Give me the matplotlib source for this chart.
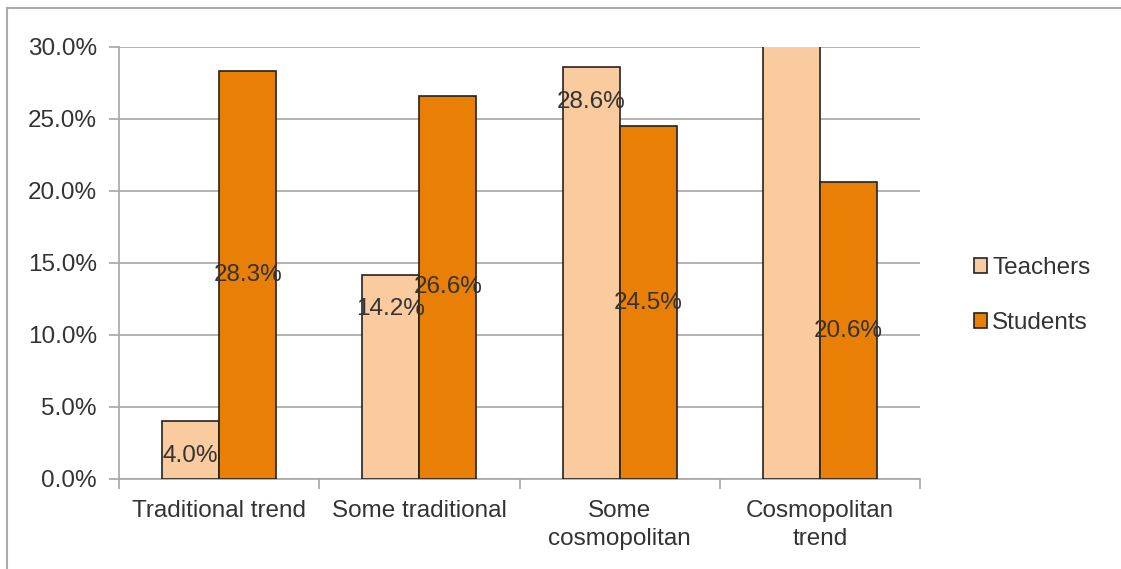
import numpy as np
import matplotlib.pyplot as plt
from matplotlib.lines import Line2D

categories = ['Traditional trend', 'Some traditional', 'Some\ncosmopolitan', 'Cosmopolitan\ntrend']
teachers = [4.0, 14.2, 28.6, 53.2]
students = [28.3, 26.6, 24.5, 20.6]

plt.rcParams['font.family'] = ['Liberation Sans', 'DejaVu Sans']
txt = '#333333'
grid = '#a6a6a6'
fs = 17.5

fig = plt.figure(figsize=(11.21, 5.69), dpi=100)
ax = fig.add_axes([0.1062, 0.1582, 0.7145, 0.7592])

x = np.arange(len(categories))
w = 0.285
ax.bar(x - w/2, teachers, w, color='#fbcba0', edgecolor='#222222', linewidth=1.2,
       label='Teachers', zorder=3)
ax.bar(x + w/2, students, w, color='#e98005', edgecolor='#222222', linewidth=1.2,
       label='Students', zorder=3)

ax.set_ylim(0, 30)
ax.set_xlim(-0.5, len(categories) - 0.5)
ax.set_yticks(np.arange(0, 31, 5))
ax.set_yticklabels(['%.1f%%' % v for v in np.arange(0, 31, 5)])
ax.yaxis.grid(True, color=grid, linewidth=1.2, zorder=0)
ax.set_xticks(x)
ax.set_xticklabels(categories, linespacing=1.35)
ax.set_xticks(np.arange(-0.5, len(categories)), minor=True)
ax.tick_params(axis='x', which='major', length=0, pad=15, labelsize=fs, labelcolor=txt)
ax.tick_params(axis='x', which='minor', length=7, color=grid, width=1.2)
ax.tick_params(axis='y', length=7, color=grid, width=1.2, labelsize=fs, labelcolor=txt, pad=9)

for s in ['top', 'right']:
    ax.spines[s].set_visible(False)
for s in ['left', 'bottom']:
    ax.spines[s].set_color(grid)
    ax.spines[s].set_linewidth(1.2)

# data labels
for xi, v in zip(x - w/2, teachers):
    if v <= 30:
        ax.text(xi, v - 2.4, '%.1f%%' % v, ha='center', va='center', fontsize=fs, color=txt, zorder=4)
for xi, v in zip(x + w/2, students):
    ax.text(xi, v / 2, '%.1f%%' % v, ha='center', va='center', fontsize=fs, color=txt, zorder=4)

leg = ax.legend(loc='center left', bbox_to_anchor=(1.04, 0.425), frameon=False, fontsize=fs,
                handlelength=0.55, handleheight=0.55, handletextpad=0.2, labelspacing=1.35)
for t in leg.get_texts():
    t.set_color(txt)

# outer frame (top and left)
fig.add_artist(Line2D([0.0062, 1.0], [0.986, 0.986], color='#aaaaaa', linewidth=1.5))
fig.add_artist(Line2D([0.0062, 0.0062], [0.0, 0.986], color='#aaaaaa', linewidth=1.5))

fig.savefig('out.png', dpi=100)
